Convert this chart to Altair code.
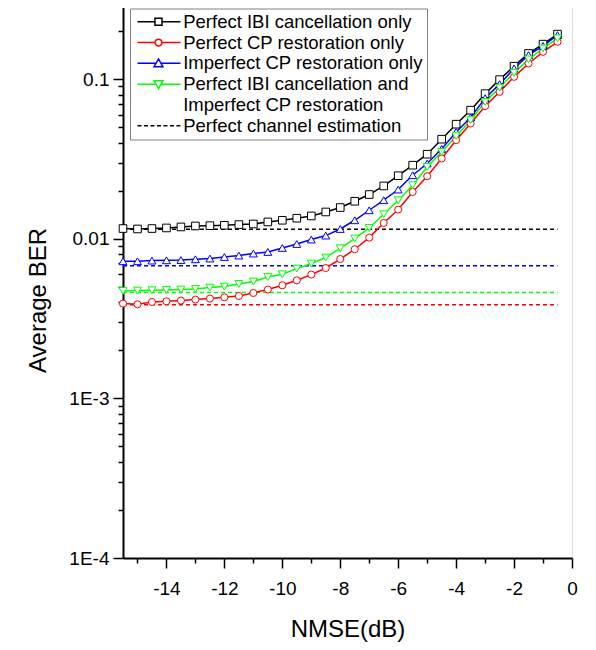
import altair as alt
import pandas as pd

# ---------------- data ----------------
NMSE_DB = [-15.5, -15.0, -14.5, -14.0, -13.5, -13.0, -12.5, -12.0, -11.5, -11.0,
           -10.5, -10.0, -9.5, -9.0, -8.5, -8.0, -7.5, -7.0, -6.5, -6.0,
           -5.5, -5.0, -4.5, -4.0, -3.5, -3.0, -2.5, -2.0, -1.5, -1.0, -0.5]

BER_PERFECT_IBI = [0.01159, 0.01152, 0.01159, 0.01169, 0.01186, 0.01203, 0.01208, 0.01215,
                   0.01227, 0.01238, 0.01275, 0.01306, 0.01345, 0.01390, 0.01472, 0.01569,
                   0.01718, 0.01893, 0.02143, 0.02483, 0.02890, 0.03387, 0.04206, 0.05223,
                   0.06393, 0.08113, 0.09929, 0.1206, 0.1449, 0.1657, 0.1915]
BER_PERFECT_CP = [0.003925, 0.003885, 0.004017, 0.004058, 0.004100, 0.004160, 0.004221, 0.004300,
                  0.004382, 0.004574, 0.004805, 0.005112, 0.005493, 0.005964, 0.006560, 0.007467,
                  0.008596, 0.01017, 0.01256, 0.01524, 0.01965, 0.02465, 0.03184, 0.04145,
                  0.05277, 0.06772, 0.08325, 0.1034, 0.1254, 0.1483, 0.1714]
BER_IMPERFECT_CP = [0.00723, 0.00723, 0.00730, 0.00733, 0.00736, 0.00744, 0.00752, 0.00769,
                    0.00785, 0.00808, 0.00827, 0.00876, 0.00928, 0.00989, 0.01047, 0.01152,
                    0.01306, 0.01509, 0.01744, 0.02035, 0.02501, 0.02962, 0.03656, 0.04673,
                    0.05754, 0.07601, 0.09305, 0.1167, 0.1414, 0.1617, 0.1888]
BER_IBI_AND_IMP_CP = [0.004708, 0.004735, 0.004756, 0.004777, 0.004805, 0.004847, 0.004945, 0.005017,
                      0.005209, 0.005393, 0.005762, 0.005991, 0.006504, 0.006992, 0.007625, 0.008718,
                      0.01003, 0.01169, 0.01424, 0.01744, 0.02165, 0.02819, 0.03501, 0.04391,
                      0.05534, 0.07206, 0.08845, 0.1095, 0.1329, 0.1557, 0.1800]

SERIES = ["Perfect IBI cancellation only", "Perfect CP restoration only",
          "Imperfect CP restoration only", "Perfect IBI cancellation and"]
EXTRA_LABEL = "Imperfect CP restoration"
PCE_NAME = "Perfect channel estimation"

# perfect channel estimation levels (one per series), drawn from first to last NMSE point
PCE_X = [-15.5, -0.5]
PCE_LEVELS = [0.01147, 0.003857, 0.00677, 0.00460]

X_TICKS = [-15, -14, -13, -12, -11, -10, -9, -8, -7, -6, -5, -4, -3, -2, -1, 0]
Y_TICKS = [0.0001, 0.0002, 0.0003, 0.0004, 0.0005, 0.0006, 0.0007, 0.0008, 0.0009,
           0.001, 0.002, 0.003, 0.004, 0.005, 0.006, 0.007, 0.008, 0.009,
           0.01, 0.02, 0.03, 0.04, 0.05, 0.06, 0.07, 0.08, 0.09,
           0.1, 0.2, 0.3]

# ---------------- styles ----------------
COLORS = ["#000000", "#ff0000", "#0000ff", "#00ff00"]
MARKERS = ["square", "circle", "triangle-up", "triangle-down"]
MARKER_SIZES = [58, 50, 62, 62]
FONT = "Liberation Sans"

curve_values = [BER_PERFECT_IBI, BER_PERFECT_CP, BER_IMPERFECT_CP, BER_IBI_AND_IMP_CP]
curves = pd.DataFrame(
    [{"series": s, "nmse": x, "ber": v}
     for s, vals in zip(SERIES, curve_values) for x, v in zip(NMSE_DB, vals)]
)
pce = pd.DataFrame(
    [{"series": s, "nmse": x, "ber": lvl}
     for s, lvl in zip(SERIES, PCE_LEVELS) for x in PCE_X]
)

# legend symbols: line + marker drawn as custom paths (unit = 5.5 px at symbolSize 121)
L, R, C = -1.05, 6.77, 2.77


def seg(a, b):
    return f"M{a:.2f},0H{b:.2f}"


def dashed(a, b, dash=0.73, gap=0.45):
    out, x = [], a
    while x < b:
        e = min(x + dash, b)
        out.append(seg(x, e))
        x = e + gap
    return "".join(out)


m = 0.64
sq_path = seg(L, C - m) + seg(C + m, R) + f"M{C-m:.2f},{-m:.2f}H{C+m:.2f}V{m:.2f}H{C-m:.2f}Z"
r = 0.62
ci_path = (seg(L, C - r) + seg(C + r, R)
           + f"M{C+r:.2f},0A{r},{r} 0 1,1 {C-r:.2f},0A{r},{r} 0 1,1 {C+r:.2f},0Z")
tu_path = seg(L, C - 0.46) + seg(C + 0.46, R) + f"M{C:.2f},-0.8L{C+0.8:.2f},0.6L{C-0.8:.2f},0.6Z"
td_path = seg(L, C - 0.46) + seg(C + 0.46, R) + f"M{C:.2f},0.8L{C+0.8:.2f},-0.6L{C-0.8:.2f},-0.6Z"
blank_path = "M0,0"
dash_path = dashed(L, R)

legend_domain = SERIES + [EXTRA_LABEL, PCE_NAME]
legend_colors = COLORS + ["#ffffff", "#000000"]
legend_shapes = [sq_path, ci_path, tu_path, td_path, blank_path, dash_path]

color_scale = alt.Scale(domain=legend_domain, range=legend_colors)

major_y = "abs(log(datum.value)/LN10 - round(log(datum.value)/LN10)) < 0.001"

x_enc = alt.X(
    "nmse:Q",
    title="NMSE(dB)",
    scale=alt.Scale(domain=[-15.5, 0], nice=False, zero=False),
    axis=alt.Axis(
        values=X_TICKS,
        labelExpr="datum.value % 2 == 0 ? toString(datum.value) : ''",
        tickSize={"condition": {"test": "datum.value % 2 == 0", "value": 10}, "value": 5},
        grid=False, labelFlush=False, labelOverlap=False,
        labelPadding=11, labelFontSize=19, labelFont=FONT, labelColor="#000000",
        tickColor="#000000", tickWidth=1.5, domainColor="#000000", domainWidth=2,
        titleFontSize=24, titleFont=FONT, titleFontWeight="normal", titleColor="#000000",
        titleY=71, titleBaseline="middle",
    ),
)
y_enc = alt.Y(
    "ber:Q",
    title="Average BER",
    scale=alt.Scale(type="log", domain=[0.0001, 0.3], nice=False),
    axis=alt.Axis(
        values=Y_TICKS,
        labelExpr=f"{major_y} ? (datum.value >= 0.01 ? toString(datum.value) : '1E' + round(log(datum.value)/LN10)) : ''",
        tickSize={"condition": {"test": major_y, "value": 10}, "value": 5},
        grid=False, labelFlush=False, labelOverlap=False,
        labelPadding=4, labelFontSize=19, labelFont=FONT, labelColor="#000000",
        tickColor="#000000", tickWidth=1.5, domainColor="#000000", domainWidth=2,
        titleFontSize=24, titleFont=FONT, titleFontWeight="normal", titleColor="#000000",
        titleX=-85, titleY=297, titleAngle=270, titleBaseline="middle", titleAlign="center",
    ),
)

pce_layer = alt.Chart(pce).mark_line(strokeWidth=1.5, strokeDash=[4, 3]).encode(
    x=x_enc, y=y_enc,
    color=alt.Color("series:N", scale=color_scale, legend=None),
)

line_layer = alt.Chart(curves).mark_line(strokeWidth=1.5).encode(
    x=x_enc, y=y_enc,
    color=alt.Color("series:N", scale=color_scale, legend=None),
)

point_layers = [
    alt.Chart(curves).transform_filter(alt.datum.series == s).mark_point(
        shape=mk, filled=True, fill="#ffffff", stroke=c, strokeWidth=1, size=sz, opacity=1
    ).encode(x=x_enc, y=y_enc)
    for s, c, mk, sz in zip(SERIES, COLORS, MARKERS, MARKER_SIZES)
]

leg = alt.Legend(
    orient="none", legendX=7, legendY=5.5, padding=4,
    strokeColor="#808080", fillColor="#ffffff",
    labelFont=FONT, labelFontSize=18.5, labelColor="#000000", labelLimit=400,
    symbolSize=121, symbolStrokeWidth=1.5, symbolOpacity=1,
    labelOffset=30.7, rowPadding=1.8,
)

# invisible carrier layer for the legend (placed first so its legend settings win)
legend_layer = alt.Chart(curves).mark_point(opacity=0, filled=False).encode(
    x=x_enc, y=y_enc,
    color=alt.Color("series:N", scale=color_scale, legend=leg, title=None),
    shape=alt.Shape("series:N", scale=alt.Scale(domain=legend_domain, range=legend_shapes),
                    legend=leg, title=None),
)

chart = alt.layer(legend_layer, pce_layer, line_layer, *point_layers).properties(
    width=449, height=555,
    padding={"left": 115, "top": -5, "right": 16, "bottom": 84},
    autosize=alt.AutoSizeParams(type="none"),
).configure_view(stroke="transparent").configure(font=FONT, background="#ffffff")

chart.save("out.html", embed_options={"renderer": "svg", "actions": False})
